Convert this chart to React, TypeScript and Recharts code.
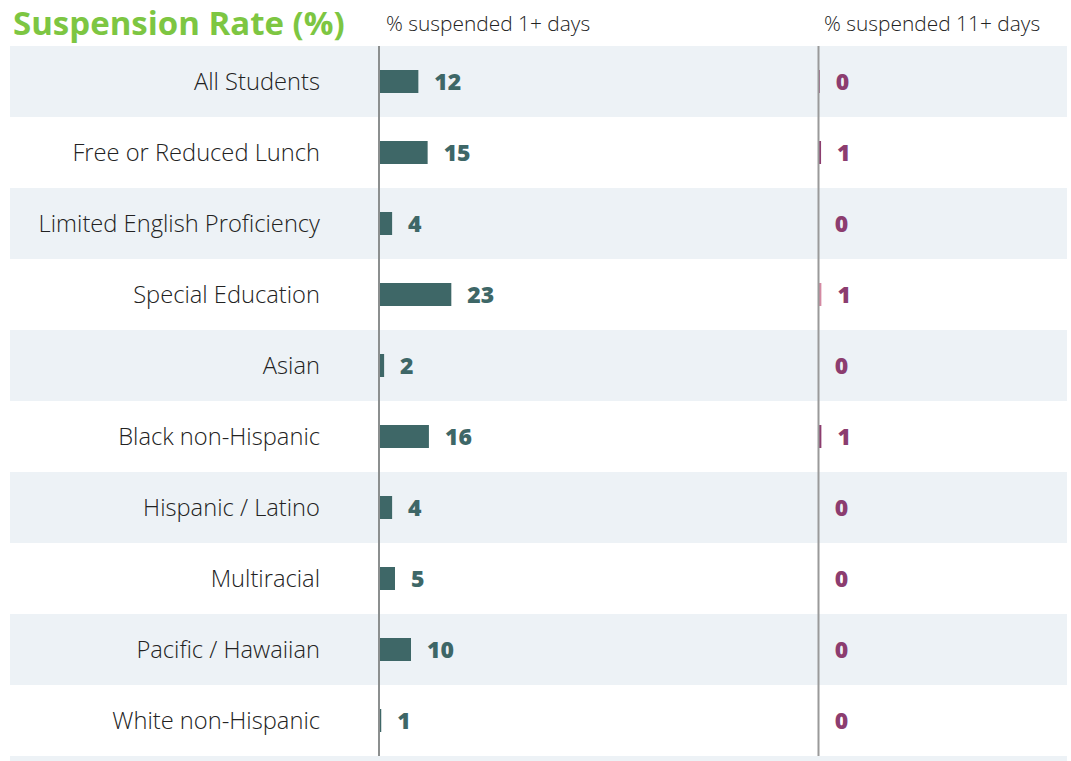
import { BarChart, Bar, XAxis, YAxis, ReferenceLine, ReferenceArea, LabelList, Cell } from 'recharts'

const groups = [
  'All Students',
  'Free or Reduced Lunch',
  'Limited English Proficiency',
  'Special Education',
  'Asian',
  'Black non-Hispanic',
  'Hispanic / Latino',
  'Multiracial',
  'Pacific / Hawaiian',
  'White non-Hispanic',
]
// bar lengths; the labels show them rounded
const suspended1 = [12.3, 15.2, 4.1, 22.6, 1.6, 15.6, 4.1, 5.0, 10.0, 0.7]
const suspended11 = [0.4, 0.8, 0.1, 0.9, 0.1, 0.9, 0.1, 0.1, 0.1, 0.1]

const W = 1071
const H = 761
const BAND = '#edf2f6'
const TEAL = '#3e6767'
const PLUM = '#8c3d6f'
const INK = '#222'
const FONT = '"Open Sans", sans-serif'
const lighterRow = 'Special Education'

// px per percentage point, and where each column's zero sits
const PX = 3.2
const plotLeft = 10
const plotWidth = 1057
const zeroA = 379
const zeroB = 818.5
const domainA = [-(zeroA - plotLeft) / PX, plotWidth / PX - (zeroA - plotLeft) / PX]
const domainB = [-(zeroB - plotLeft) / PX, plotWidth / PX - (zeroB - plotLeft) / PX]

const data = groups.map((name, i) => ({ name, a: suspended1[i], b: suspended11[i] }))

function GroupLabel({ y, height, value }: any) {
  return (
    <text x={320} y={y + height / 2 - 1} textAnchor="end" dominantBaseline="central" fill={INK}
      fontSize={23.7} fontWeight={300} fontFamily={FONT}>
      {value}
    </text>
  )
}

const round = (v: any) => String(Math.round(Number(v)))

export default function App() {
  return (
    <div style={{ position: 'absolute', left: 0, top: 0, width: W, height: H, background: '#fff', fontFamily: FONT }}>
      <div style={{ position: 'absolute', left: 13, top: 0, fontSize: 33, fontWeight: 700, color: '#7dc642', whiteSpace: 'nowrap' }}>
        Suspension Rate (%)
      </div>
      <div style={{ position: 'absolute', left: 386, top: 9, fontSize: 20.9, fontWeight: 300, color: INK, whiteSpace: 'nowrap' }}>% suspended 1+ days</div>
      <div style={{ position: 'absolute', left: 824, top: 9, fontSize: 20.9, fontWeight: 300, color: INK, whiteSpace: 'nowrap' }}>% suspended 11+ days</div>
      <div style={{ position: 'absolute', left: 10, top: 756, width: 1057, height: 5, background: BAND }} />
      <div style={{ position: 'absolute', left: 0, top: 0 }}>
        <BarChart
          width={W}
          height={H}
          data={data}
          layout="vertical"
          margin={{ top: 46, right: 4, bottom: 5, left: 10 }}
          barSize={23}
          barGap={-23}
        >
          <XAxis xAxisId="a" type="number" domain={domainA} allowDataOverflow hide />
          <XAxis xAxisId="b" type="number" domain={domainB} allowDataOverflow hide />
          <YAxis type="category" dataKey="name" hide />
          {groups.filter((_, i) => i % 2 === 0).map(g => (
            <ReferenceArea key={g} xAxisId="a" y1={g} y2={g} fill={BAND} fillOpacity={1} stroke="none" />
          ))}
          <Bar xAxisId="a" dataKey="a" fill={TEAL} isAnimationActive={false}>
            <LabelList dataKey="name" content={<GroupLabel />} />
            <LabelList dataKey="a" position="right" offset={16} formatter={round}
              fill={TEAL} fontSize={23} fontWeight={800} fontFamily={FONT} />
          </Bar>
          <Bar xAxisId="b" dataKey="b" fill={PLUM} isAnimationActive={false}>
            {data.map(d => (
              <Cell key={d.name} fill={d.name === lighterRow ? '#d48aa3' : PLUM} />
            ))}
            <LabelList dataKey="b" position="right" offset={16} formatter={round}
              fill={PLUM} fontSize={23} fontWeight={800} fontFamily={FONT} />
          </Bar>
          <ReferenceLine xAxisId="a" x={0} stroke="#8c8f8f" strokeWidth={2} />
          <ReferenceLine xAxisId="b" x={0} stroke="#9a9a9a" strokeWidth={2} />
        </BarChart>
      </div>
    </div>
  )
}
